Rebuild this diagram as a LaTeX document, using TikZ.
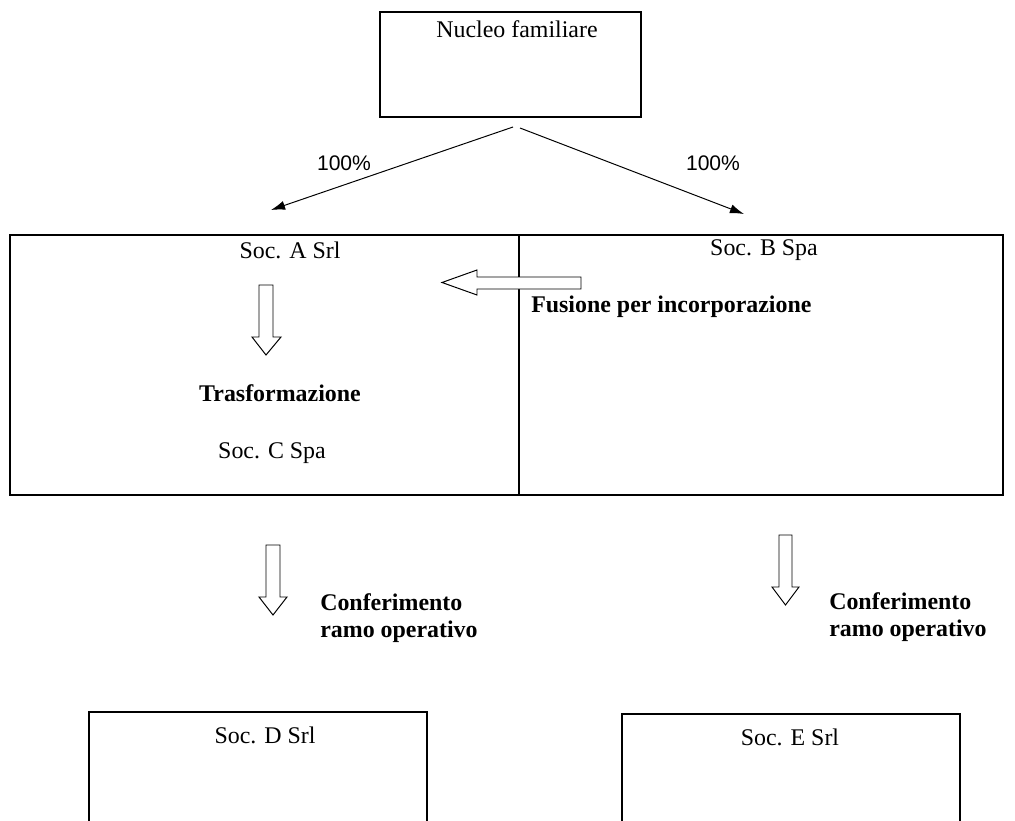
\documentclass[tikz,border=0pt]{standalone}
\usepackage{fontspec}
\setmainfont{Liberation Serif}
\newfontfamily\arialf{Liberation Sans}
\usepackage{tikz}
\usetikzlibrary{arrows.meta, positioning}

\tikzset{
    caja/.style={draw, line width=0.9pt},
    texto/.style={font=\fontsize{17}{18.5}\selectfont, inner sep=0pt},
    negrita/.style={font=\fontsize{17}{19.2}\selectfont\bfseries, inner sep=0pt, align=left},
    pct/.style={font=\fontsize{15}{17}\selectfont\arialf, inner sep=0pt},
    flecha/.style={line width=0.7pt, -{Latex[length=10pt,width=6.5pt]}},
    bloque/.style={draw, line width=0.7pt, line join=miter, fill=white}
}

\begin{document}
\begin{tikzpicture}[x=0.025cm, y=-0.025cm]
        \useasboundingbox (0,0) rectangle (1015,821);
        \clip (0,0) rectangle (1015,821);
        % Cajas principales
        \draw[caja] (380,12) rectangle (641,117);
        \draw[caja] (10,235) rectangle (1003,495);
        \draw[caja] (519,235) -- (519,495);
        \draw[caja] (89,712) rectangle (427,900);
        \draw[caja] (622,714) rectangle (960,900);
        % Textos de las cajas
        \node[texto] (nucleo) at (517,29) {Nucleo familiare};
        \node[texto] (socA) at (290,250) {Soc. A Srl};
        \node[texto] (socB) at (764,250) {Soc. B Spa};
        \node[negrita] (trasf) at (280,393) {Trasformazione};
        \node[texto] (socC) at (272,453) {Soc. C Spa};
        \node[texto] (socD) at (265,735) {Soc. D Srl};
        \node[texto] (socE) at (790,737) {Soc. E Srl};
        % Flechas de participacion
        \coordinate (oA) at (513,127);
        \coordinate (oB) at (520,128);
        \coordinate (fA) at (271,210);
        \coordinate (fB) at (744,214);
        \draw[flecha] (oA) -- (fA);
        \draw[flecha] (oB) -- (fB);
        \node[pct] (pA) at (344,163) {100\%};
        \node[pct] (pB) at (713,163) {100\%};
        % Flechas gruesas
        \draw[bloque] (581,277) -- (477,277) -- (477,270) -- (442,282.5) -- (477,295) -- (477,289) -- (581,289) -- cycle;
        \draw[bloque] (259,285) -- (273,285) -- (273,337) -- (281,337) -- (266,355) -- (252,337) -- (259,337) -- cycle;
        \draw[bloque] (266,545) -- (280,545) -- (280,597) -- (287,597) -- (273,615) -- (259,597) -- (266,597) -- cycle;
        \draw[bloque] (779,535) -- (792,535) -- (792,587) -- (799,587) -- (785.5,605) -- (772,587) -- (779,587) -- cycle;
        \node[negrita, anchor=west] (fusion) at (531,307) {Fusione per incorporazione};
        \node[negrita, anchor=west] (confA) at (320,618) {Conferimento\\ramo operativo};
        \node[negrita, anchor=west] (confB) at (829,617) {Conferimento\\ramo operativo};
\end{tikzpicture}
\end{document}
